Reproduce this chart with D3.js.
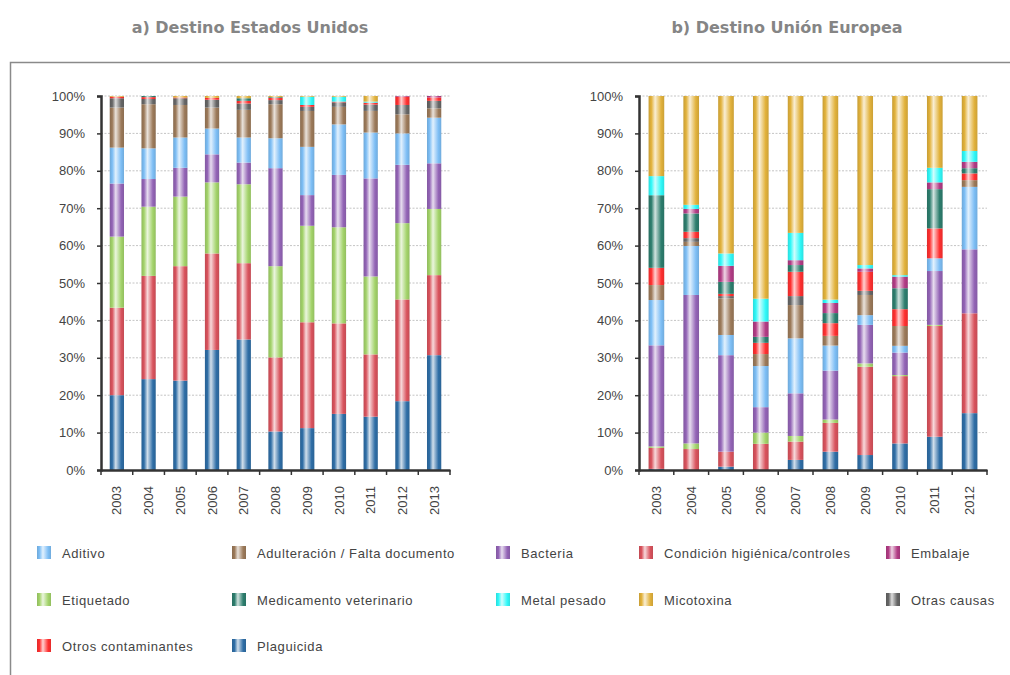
<!DOCTYPE html>
<html>
<head>
<meta charset="utf-8">
<script src="https://cdn.jsdelivr.net/npm/d3@7"></script>
<style>
  body { margin: 0; background: #fff; }
  svg { display: block; font-family: "Liberation Sans", Arial, sans-serif; }
</style>
</head>
<body>
<div id="chart"></div>
<script>
// stack order, bottom to top
const categories = ["Plaguicida", "Condición higiénica/controles", "Etiquetado", "Bacteria", "Aditivo",
  "Adulteración / Falta documento", "Otras causas", "Otros contaminantes", "Medicamento veterinario",
  "Embalaje", "Metal pesado", "Micotoxina"];
const colors = ["#2f6ea6", "#d9535d", "#a3d36a", "#9364b6", "#7dbef5",
  "#9c7a5a", "#666666", "#ff3030", "#2d7e6e", "#b23c85", "#30f8f8", "#e2b23c"];

// legend order (row by row)
const legendOrder = ["Aditivo", "Adulteración / Falta documento", "Bacteria", "Condición higiénica/controles", "Embalaje",
  "Etiquetado", "Medicamento veterinario", "Metal pesado", "Micotoxina", "Otras causas",
  "Otros contaminantes", "Plaguicida"];

const usYears = ["2003", "2004", "2005", "2006", "2007", "2008", "2009", "2010", "2011", "2012", "2013"];
const euYears = ["2003", "2004", "2005", "2006", "2007", "2008", "2009", "2010", "2011", "2012"];

// a) Estados Unidos, % per year
const usPlaguicida    = [20.0, 24.3, 23.9, 32.1, 34.9, 10.3, 11.2, 15.0, 14.3, 18.4, 30.7];
const usCondicion     = [23.4, 27.6, 30.6, 25.8, 20.4, 19.8, 28.3, 24.2, 16.7, 27.2, 21.4];
const usEtiquetado    = [19.0, 18.5, 18.6, 19.0, 21.1, 24.4, 25.8, 25.7, 20.9, 20.4, 17.7];
const usBacteria      = [14.2,  7.4,  7.7,  7.5,  5.8, 26.2,  8.2, 14.0, 26.3, 15.6, 12.2];
const usAditivo       = [ 9.6,  8.2,  8.1,  6.9,  6.7,  8.0, 12.9, 13.5, 12.3,  8.4, 12.2];
const usAdulteracion  = [10.7, 11.8,  8.7,  5.6,  7.4,  9.1,  9.6,  4.7,  5.8,  5.1,  2.5];
const usOtrasCausas   = [ 2.5,  1.4,  1.8,  2.1,  1.7,  1.1,  1.1,  1.2,  1.7,  2.5,  2.0];
const usOtrosContam   = [ 0.4,  0.5,  0.2,  0.5,  0.7,  0.6,  0.5,  0.2,  0.5,  2.2,  0.9];
const usMedicamento   = [ 0.0,  0.3,  0.0,  0.0,  0.7,  0.2,  0.0,  0.0,  0.0,  0.0,  0.0];
const usEmbalaje      = [ 0.0,  0.0,  0.0,  0.0,  0.0,  0.0,  0.0,  0.0,  0.0,  0.2,  0.4];
const usMetal         = [ 0.0,  0.0,  0.0,  0.0,  0.0,  0.0,  2.2,  1.3,  0.3,  0.0,  0.0];
const usMicotoxina    = [ 0.2,  0.0,  0.4,  0.5,  0.6,  0.3,  0.2,  0.2,  1.5,  0.0,  0.0];

// b) Unión Europea, % per year
const euPlaguicida    = [ 0.3,  0.0,  0.9,  0.0,  2.7,  4.9,  4.0,  7.1,  8.9, 15.2];
const euCondicion     = [ 5.6,  5.6,  4.0,  7.0,  4.9,  7.7, 23.6, 18.0, 29.6, 26.7];
const euEtiquetado    = [ 0.4,  1.5,  0.0,  3.0,  1.5,  0.9,  0.9,  0.3,  0.3,  0.0];
const euBacteria      = [27.0, 39.7, 25.8,  6.8, 11.4, 13.1, 10.3,  6.0, 14.4, 17.1];
const euAditivo       = [12.1, 13.1,  5.4, 11.0, 14.7,  6.7,  2.6,  1.8,  3.4, 16.7];
const euAdulteracion  = [ 4.0,  1.1,  9.8,  3.2,  8.9,  2.6,  5.4,  5.3,  0.0,  1.8];
const euOtrasCausas   = [ 0.0,  1.0,  0.6,  0.0,  2.4,  0.0,  1.1,  0.0,  0.0,  0.0];
const euOtrosContam   = [ 4.6,  1.7,  0.6,  3.0,  6.5,  3.4,  5.1,  4.5,  8.0,  1.8];
const euMedicamento   = [19.4,  4.9,  3.2,  1.6,  1.8,  2.7,  0.0,  5.6, 10.5,  1.4];
const euEmbalaje      = [ 0.0,  1.2,  4.3,  4.1,  1.3,  2.7,  0.9,  3.1,  1.8,  1.7];
const euMetal         = [ 5.1,  1.1,  3.3,  6.1,  7.3,  0.9,  0.9,  0.4,  3.9,  2.9];
const euMicotoxina    = [21.4, 29.1, 42.1, 54.2, 36.6, 54.5, 45.2, 47.9, 19.2, 14.7];

const usSeries = [usPlaguicida, usCondicion, usEtiquetado, usBacteria, usAditivo, usAdulteracion,
  usOtrasCausas, usOtrosContam, usMedicamento, usEmbalaje, usMetal, usMicotoxina];
const euSeries = [euPlaguicida, euCondicion, euEtiquetado, euBacteria, euAditivo, euAdulteracion,
  euOtrasCausas, euOtrosContam, euMedicamento, euEmbalaje, euMetal, euMicotoxina];

const yTicks = d3.range(0, 1.01, 0.1);

const W = 1010, H = 675;
const svg = d3.select("#chart").append("svg")
  .attr("width", W)
  .attr("height", H);

// glossy bar gradients
const defs = svg.append("defs");
categories.forEach((c, i) => {
  const base = d3.color(colors[i]);
  const grad = defs.append("linearGradient")
    .attr("id", "g" + i)
    .attr("x1", 0).attr("x2", 1).attr("y1", 0).attr("y2", 0);
  const stops = [
    [0, base.darker(0.35)],
    [0.18, base],
    [0.42, d3.interpolateRgb(base, "#fff")(0.78)],
    [0.58, d3.interpolateRgb(base, "#fff")(0.45)],
    [0.8, base],
    [1, base.darker(0.3)]
  ];
  stops.forEach(s => grad.append("stop")
    .attr("offset", s[0])
    .attr("stop-color", s[1].toString()));
});

// frame
svg.append("rect")
  .attr("x", 10.5).attr("y", 62.5)
  .attr("width", 1010).attr("height", 640)
  .attr("fill", "none")
  .attr("stroke", "#8a8a8a")
  .attr("stroke-width", 1.5);

function drawChart(years, series, x0, x1, title, titleX) {
  const y0 = 470, y1 = 96;
  const table = years.map((yr, j) => {
    const row = { year: yr };
    categories.forEach((c, i) => row[c] = series[i][j]);
    return row;
  });
  const stacked = d3.stack().keys(categories).offset(d3.stackOffsetExpand)(table);

  const x = d3.scaleBand()
    .domain(years)
    .range([x0, x1])
    .paddingInner(0.55)
    .paddingOuter(0.275);
  const y = d3.scaleLinear().domain([0, 1]).range([y0, y1]);

  svg.append("text")
    .attr("x", titleX)
    .attr("y", 33)
    .attr("text-anchor", "middle")
    .style("font-family", "'DejaVu Sans', sans-serif")
    .style("font-size", "16px")
    .style("font-weight", "bold")
    .attr("fill", "#858585")
    .text(title);

  // grid
  svg.append("g")
    .selectAll("line")
    .data(yTicks.filter(d => d > 0.05))
    .enter()
    .append("line")
    .attr("x1", x0).attr("x2", x1)
    .attr("y1", d => y(d)).attr("y2", d => y(d))
    .attr("stroke", "#c4c4c4")
    .attr("stroke-dasharray", "2,1.5");

  // bars
  svg.append("g")
    .selectAll("g")
    .data(stacked)
    .enter()
    .append("g")
    .attr("fill", (d, i) => `url(#g${i})`)
    .selectAll("rect")
    .data(d => d)
    .enter()
    .append("rect")
    .attr("x", d => x(d.data.year))
    .attr("y", d => y(d[1]))
    .attr("width", x.bandwidth())
    .attr("height", d => Math.max(0, y(d[0]) - y(d[1])));

  // y axis
  const ya = svg.append("g")
    .attr("transform", `translate(${x0},0)`)
    .call(d3.axisLeft(y).tickValues(yTicks).tickFormat(d3.format(".0%")).tickSize(4).tickPadding(12));
  ya.select(".domain").attr("stroke", "#333").attr("stroke-width", 2.5);
  ya.selectAll(".tick line").attr("stroke", "#333").attr("stroke-width", 1.5);
  ya.selectAll("text").attr("fill", "#444").style("font-size", "13px")
    .style("font-family", "'Liberation Sans', Arial, sans-serif");

  // x axis
  const xa = svg.append("g")
    .attr("transform", `translate(0,${y0})`)
    .call(d3.axisBottom(x).tickSize(0));
  xa.select(".domain").attr("stroke", "#333").attr("stroke-width", 2.5);
  xa.selectAll("text")
    .attr("fill", "#444")
    .style("font-size", "13px")
    .style("font-family", "'Liberation Sans', Arial, sans-serif")
    .attr("transform", "rotate(-90)")
    .attr("x", -16)
    .attr("y", 0)
    .attr("dy", "0.35em")
    .style("text-anchor", "end");

  const edges = years.map(d => x(d) - x.step() * 0.275).concat([x1]);
  svg.append("g")
    .selectAll("line")
    .data(edges)
    .enter()
    .append("line")
    .attr("x1", d => d).attr("x2", d => d)
    .attr("y1", y0).attr("y2", y0 + 5)
    .attr("stroke", "#333")
    .attr("stroke-width", 1.5);
}

drawChart(usYears, usSeries, 101, 450, "a) Destino Estados Unidos", 250);
drawChart(euYears, euSeries, 639, 987, "b) Destino Unión Europea", 787);

// legend
const legX = [37, 232, 496, 639, 886];
const legY = [553, 600, 646];
const leg = svg.append("g")
  .selectAll("g")
  .data(legendOrder)
  .enter()
  .append("g")
  .attr("transform", (d, i) => `translate(${legX[i % 5]},${legY[Math.floor(i / 5)]})`);

leg.append("rect")
  .attr("x", 0).attr("y", -7)
  .attr("width", 14).attr("height", 13)
  .attr("fill", d => `url(#g${categories.indexOf(d)})`);

leg.append("text")
  .attr("x", 25)
  .attr("y", 0)
  .attr("dy", "0.35em")
  .attr("fill", "#444")
  .style("font-size", "13px")
  .style("letter-spacing", "0.6px")
  .text(d => d);
</script>
</body>
</html>
